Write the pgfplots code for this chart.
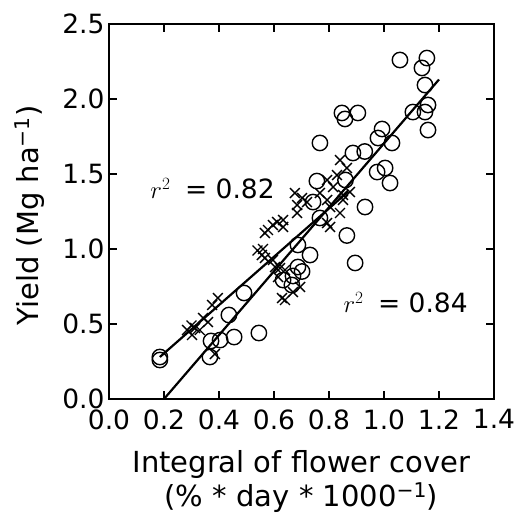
\documentclass[border=0pt]{standalone}
\usepackage{pgfplots}
\pgfplotsset{compat=1.18}
\usepackage{fontspec}
\setmainfont{DejaVu Sans}

\pgfplotstableread{
x y
0.185 0.28
0.185 0.26
0.367 0.28
0.371 0.387
0.404 0.393
0.455 0.413
0.545 0.44
0.436 0.56
0.491 0.707
0.633 0.793
0.665 0.76
0.669 0.82
0.687 0.88
0.702 0.85
0.687 1.027
0.731 0.96
0.742 1.313
0.756 1.453
0.767 1.207
0.767 1.707
0.847 1.907
0.858 1.867
0.905 1.907
0.865 1.09
0.895 0.907
0.931 1.28
0.887 1.64
0.930 1.65
0.860 1.46
0.975 1.513
1.004 1.54
1.022 1.44
0.978 1.74
0.993 1.80
1.029 1.707
1.105 1.913
1.160 1.96
1.149 1.913
1.160 1.793
1.149 2.093
1.058 2.26
1.156 2.273
1.138 2.207
}\circles

\pgfplotstableread{
x y
0.284 0.46
0.300 0.49
0.313 0.473
0.302 0.427
0.330 0.46
0.342 0.54
0.360 0.513
0.375 0.627
0.396 0.673
0.385 0.30
0.540 0.99
0.560 1.00
0.556 0.96
0.567 0.94
0.596 0.927
0.604 0.88
0.622 0.873
0.640 0.86
0.615 0.813
0.629 0.673
0.640 0.66
0.669 0.713
0.695 0.747
0.567 1.107
0.596 1.16
0.578 1.127
0.611 1.18
0.633 1.193
0.633 1.147
0.676 1.373
0.702 1.34
0.720 1.313
0.684 1.293
0.684 1.24
0.767 1.373
0.793 1.327
0.804 1.28
0.840 1.24
0.851 1.36
0.793 1.173
0.804 1.147
0.840 1.593
0.865 1.54
0.829 1.493
0.793 1.46
0.815 1.413
0.876 1.38
0.851 1.327
}\crosses

\begin{document}
\begin{tikzpicture}
\begin{axis}[
  scale only axis, width=385bp, height=375bp,
  xmin=0, xmax=1.4, ymin=0, ymax=2.5,
  xtick={0,0.2,0.4,0.6,0.8,1.0,1.2,1.4},
  ytick={0,0.5,1.0,1.5,2.0,2.5},
  tick align=inside, xtick pos=both, ytick pos=both,
  major tick length=8bp,
  tick style={black, line width=1.2bp},
  axis line style={line width=1.8bp},
  /pgf/number format/.cd, fixed, fixed zerofill, precision=1, assume math mode=true, /pgfplots/.cd,
  tick label style={font=\fontsize{26.5bp}{30bp}\selectfont},
  xticklabel style={yshift=-7bp},
  yticklabel style={xshift=-1bp},
  label style={font=\fontsize{29bp}{34bp}\selectfont},
  xlabel={Integral of flower cover\\(\% * day * 1000\textsuperscript{−1})},
  xlabel style={align=center, at={(axis description cs:0.5,0)}, anchor=center, yshift=-82bp},
  ylabel={Yield (Mg ha\textsuperscript{−1})},
  ylabel style={at={(axis description cs:0,0.5)}, anchor=center, yshift=79bp, xshift=-4bp},
  clip=false,
]
\addplot[only marks, mark=o, mark size=7.7bp, mark options={line width=1.4bp, black}] table {\circles};
\addplot[only marks, mark=x, mark size=7bp, mark options={line width=1.4bp, black}] table {\crosses};
\addplot[black, line width=2.2bp, no marks] coordinates {(0.2,0) (1.2,2.13)};
\addplot[black, line width=2.2bp, no marks] coordinates {(0.185,0.28) (0.87,1.383)};
\node[anchor=base west, font=\fontsize{26.5bp}{30bp}\selectfont] at (axis cs:0.138,1.34) {$r^2$\hspace{0.55em}= 0.82};
\node[anchor=base west, font=\fontsize{26.5bp}{30bp}\selectfont] at (axis cs:0.84,0.58) {$r^2$\hspace{0.55em}= 0.84};
\end{axis}
\pgfresetboundingbox
\path[use as bounding box] (-109bp,-114bp) rectangle (408bp,399bp);
\end{tikzpicture}
\end{document}
